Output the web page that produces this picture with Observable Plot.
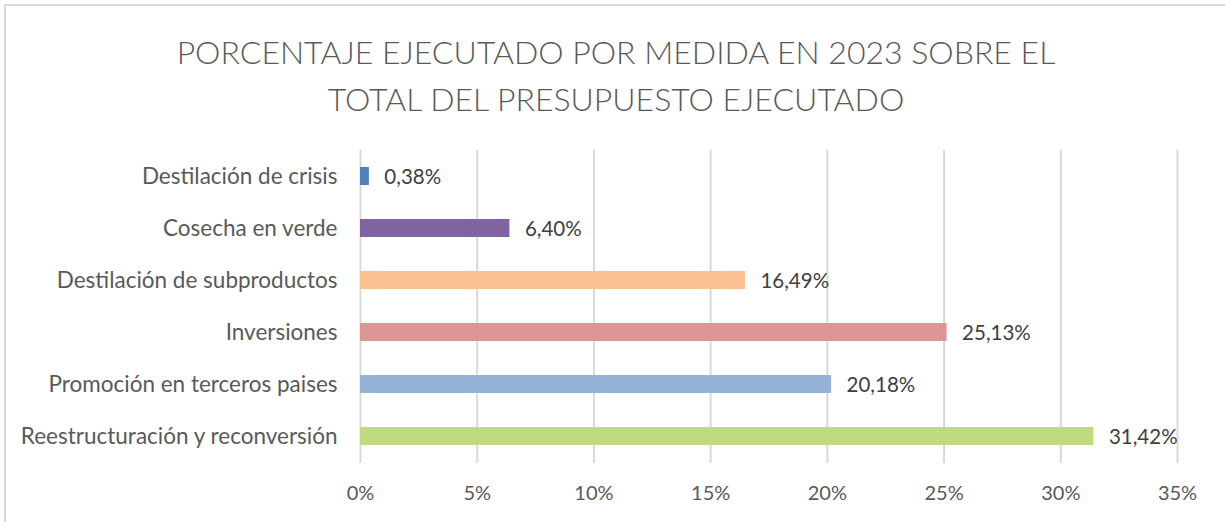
<!DOCTYPE html>
<html>
<head>
<meta charset="utf-8">
<script src="https://cdn.jsdelivr.net/npm/d3@7"></script>
<script src="https://cdn.jsdelivr.net/npm/@observablehq/plot@0.6"></script>
<style>
  html, body { margin: 0; padding: 0; background: #fff; }
  #wrap { position: relative; width: 1225px; height: 522px; overflow: hidden; font-family: Lato, "Open Sans", sans-serif; }
  #frame { position: absolute; left: 4px; top: 4px; width: 1240px; height: 540px; border-left: 2px solid #d9d9d9; border-top: 2px solid #d9d9d9; }
  #title { position: absolute; left: 0; top: 28px; width: 1232px; text-align: center; font-size: 32px; font-weight: 300; color: #595959; line-height: 47px; }
  #chart { position: absolute; left: 0; top: 0; }
</style>
</head>
<body>
<div id="wrap">
  <div id="frame"></div>
  <div id="title">PORCENTAJE EJECUTADO POR MEDIDA EN 2023 SOBRE EL<br>TOTAL DEL PRESUPUESTO EJECUTADO</div>
  <div id="chart"></div>
</div>
<script>
const categories = [
  "Destilación de crisis",
  "Cosecha en verde",
  "Destilación de subproductos",
  "Inversiones",
  "Promoción en terceros paises",
  "Reestructuración y reconversión"
];
const values = [0.38, 6.40, 16.49, 25.13, 20.18, 31.42];
const colors = ["#4F81BD", "#8064A2", "#FAC090", "#D99694", "#95B3D7", "#BEDB80"];
const xTicks = [0, 5, 10, 15, 20, 25, 30, 35];

const data = categories.map((c, i) => ({category: c, value: values[i], color: colors[i]}));
const fmt = v => v.toFixed(2).replace(".", ",") + "%";

const chart = Plot.plot({
  width: 1225,
  height: 522,
  marginLeft: 360,
  marginRight: 48,
  marginTop: 150,
  marginBottom: 59,
  style: {fontFamily: "Lato, 'Open Sans', sans-serif", fontSize: "20px", color: "#595959", background: "transparent"},
  x: {domain: [0, 35], ticks: xTicks, tickFormat: d => d + "%", label: null},
  y: {domain: categories, paddingInner: 0.646, paddingOuter: 0.323, label: null},
  marks: [
    Plot.gridX(xTicks, {stroke: "#d9d9d9", strokeOpacity: 1, strokeWidth: 2}),
    Plot.barX(data, {x: "value", y: "category", fill: "color"}),
    Plot.text(data, {x: "value", y: "category", text: d => fmt(d.value), textAnchor: "start", dx: 15, dy: 1, fill: "#404040", fontSize: 20.5}),
    Plot.axisX({ticks: xTicks, tickFormat: d => d + "%", tickSize: 0, tickPadding: 22, fontSize: 20, fill: "#595959"}),
    Plot.axisY({tickSize: 0, tickPadding: 23, fontSize: 22.5, fill: "#595959"})
  ]
});
document.getElementById("chart").appendChild(chart);
</script>
</body>
</html>
